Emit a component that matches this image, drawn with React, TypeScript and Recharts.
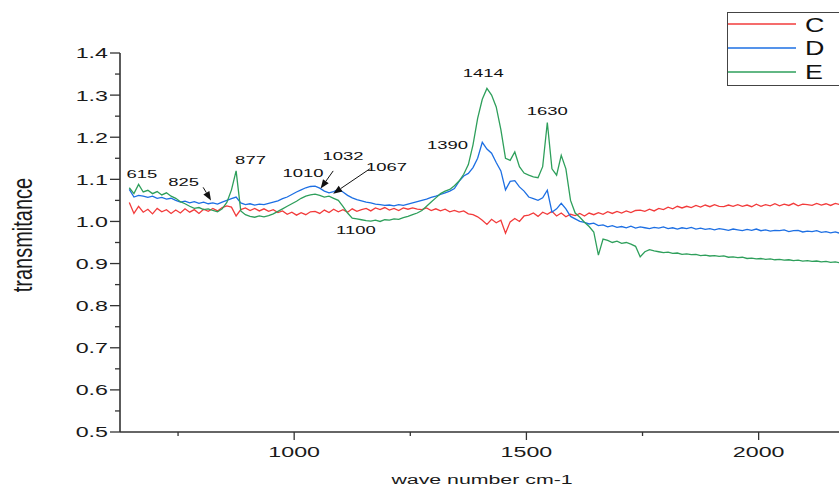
import React from "react";
import {
  Legend,
  Line,
  LineChart,
  ReferenceDot,
  ReferenceLine,
  XAxis,
  YAxis,
} from "recharts";

// wave numbers (cm-1) shared by the three spectra
const waveNumbers = [
  645, 655, 665, 675, 685, 695, 705, 715, 725, 735,
  745, 755, 765, 775, 785, 795, 805, 815, 825, 835,
  845, 855, 865, 875, 885, 895, 905, 915, 925, 935,
  945, 955, 965, 975, 985, 995, 1005, 1015, 1025, 1035,
  1045, 1055, 1065, 1075, 1085, 1095, 1105, 1115, 1125, 1135,
  1145, 1155, 1165, 1175, 1185, 1195, 1205, 1215, 1225, 1235,
  1245, 1255, 1265, 1275, 1285, 1295, 1305, 1315, 1325, 1335,
  1345, 1355, 1365, 1375, 1385, 1395, 1405, 1415, 1425, 1435,
  1445, 1455, 1465, 1475, 1485, 1495, 1505, 1515, 1525, 1535,
  1545, 1555, 1565, 1575, 1585, 1595, 1605, 1615, 1625, 1635,
  1645, 1655, 1665, 1675, 1685, 1695, 1705, 1715, 1725, 1735,
  1745, 1755, 1765, 1775, 1785, 1795, 1805, 1815, 1825, 1835,
  1845, 1855, 1865, 1875, 1885, 1895, 1905, 1915, 1925, 1935,
  1945, 1955, 1965, 1975, 1985, 1995, 2005, 2015, 2025, 2035,
  2045, 2055, 2065, 2075, 2085, 2095, 2105, 2115, 2125, 2135,
  2145, 2155, 2165, 2175,
];

const seriesC = [
  1.045, 1.019, 1.036, 1.022, 1.029, 1.018, 1.031, 1.023, 1.028, 1.019,
  1.027, 1.020, 1.030, 1.022, 1.028, 1.019, 1.029, 1.024, 1.031, 1.025,
  1.033, 1.037, 1.034, 1.013, 1.028, 1.032, 1.026, 1.031, 1.025, 1.030,
  1.024, 1.028, 1.021, 1.025, 1.017, 1.022, 1.015, 1.021, 1.016, 1.023,
  1.024, 1.019, 1.027, 1.021, 1.029, 1.023, 1.028, 1.022, 1.030, 1.024,
  1.028, 1.031, 1.025, 1.032, 1.028, 1.033, 1.027, 1.031, 1.026, 1.032,
  1.029, 1.032, 1.029, 1.028, 1.032, 1.026, 1.030, 1.025, 1.029, 1.023,
  1.026, 1.022, 1.025, 1.018, 1.016, 1.011, 1.003, 0.993, 1.005, 0.997,
  1.003, 0.972, 0.999, 1.007, 1.000, 1.013, 1.015, 1.020, 1.012, 1.022,
  1.017, 1.024, 1.013, 1.020, 1.011, 1.017, 1.014, 1.019, 1.013, 1.020,
  1.016, 1.021, 1.017, 1.023, 1.019, 1.024, 1.020, 1.025, 1.021, 1.026,
  1.027, 1.024, 1.029, 1.025, 1.031, 1.028, 1.034, 1.030, 1.036, 1.032,
  1.036, 1.033, 1.038, 1.034, 1.039, 1.035, 1.040, 1.036, 1.035, 1.039,
  1.036, 1.040, 1.036, 1.039, 1.035, 1.041, 1.036, 1.040, 1.037, 1.042,
  1.037, 1.041, 1.038, 1.043, 1.037, 1.041, 1.040, 1.038, 1.043, 1.039,
  1.042, 1.038, 1.043, 1.040,
];

const seriesD = [
  1.076, 1.058, 1.062, 1.060, 1.057, 1.060, 1.055, 1.057, 1.053, 1.055,
  1.050, 1.046, 1.048, 1.044, 1.047, 1.043, 1.046, 1.042, 1.044, 1.041,
  1.046, 1.050, 1.054, 1.058, 1.044, 1.040, 1.042, 1.039, 1.041, 1.040,
  1.043, 1.046, 1.049, 1.054, 1.058, 1.064, 1.070, 1.075, 1.080, 1.083,
  1.084, 1.079, 1.072, 1.068, 1.071, 1.076, 1.070, 1.062, 1.056, 1.052,
  1.049, 1.046, 1.044, 1.041, 1.040, 1.038, 1.039, 1.037, 1.040, 1.038,
  1.041, 1.044, 1.047, 1.050, 1.053, 1.057, 1.060, 1.064, 1.068, 1.072,
  1.078, 1.095, 1.108, 1.114, 1.128, 1.150, 1.188, 1.172, 1.162, 1.140,
  1.120, 1.075, 1.095, 1.097, 1.082, 1.072, 1.058, 1.054, 1.050, 1.056,
  1.074, 1.022, 1.030, 1.043, 1.030, 1.012, 1.006, 1.000, 0.998, 0.994,
  0.996, 0.990, 0.992, 0.987, 0.990, 0.986, 0.988, 0.985, 0.989, 0.984,
  0.987, 0.985, 0.983, 0.986, 0.984, 0.987, 0.983, 0.985, 0.982, 0.985,
  0.983, 0.986, 0.982, 0.984, 0.981, 0.983, 0.980, 0.983, 0.981, 0.979,
  0.982, 0.980, 0.978, 0.981, 0.979, 0.982, 0.978, 0.980, 0.977, 0.979,
  0.978, 0.980, 0.976, 0.978, 0.979, 0.975, 0.977, 0.976, 0.978, 0.974,
  0.976, 0.973, 0.975, 0.972,
];

const seriesE = [
  1.080, 1.066, 1.088, 1.070, 1.074, 1.066, 1.071, 1.063, 1.068, 1.060,
  1.055, 1.047, 1.042, 1.036, 1.031, 1.033, 1.028, 1.030, 1.026, 1.023,
  1.030, 1.045, 1.075, 1.120, 1.025, 1.016, 1.012, 1.010, 1.013, 1.011,
  1.014, 1.018, 1.024, 1.030, 1.036, 1.042, 1.048, 1.055, 1.060, 1.063,
  1.065, 1.062, 1.058, 1.060, 1.055, 1.050, 1.036, 1.020, 1.008, 1.006,
  1.004, 1.002, 1.001, 1.003, 1.000, 1.004, 1.003, 1.006, 1.005, 1.009,
  1.012, 1.016, 1.020, 1.026, 1.036, 1.046, 1.056, 1.066, 1.072, 1.076,
  1.085, 1.096, 1.112, 1.135, 1.182, 1.245, 1.290, 1.316, 1.300, 1.272,
  1.218, 1.150, 1.145, 1.165, 1.130, 1.115, 1.110, 1.106, 1.104, 1.130,
  1.235, 1.125, 1.110, 1.157, 1.125, 1.050, 1.020, 1.010, 0.998, 0.988,
  0.975, 0.920, 0.958, 0.955, 0.950, 0.953, 0.948, 0.950, 0.946, 0.941,
  0.916, 0.928, 0.933, 0.930, 0.928, 0.926, 0.927, 0.924, 0.925, 0.922,
  0.923, 0.921, 0.922, 0.919, 0.920, 0.918, 0.919, 0.917, 0.918, 0.915,
  0.916, 0.914, 0.915, 0.912, 0.913, 0.911, 0.912, 0.910, 0.911, 0.909,
  0.910, 0.908, 0.909, 0.907, 0.908, 0.906, 0.907, 0.905, 0.906, 0.904,
  0.905, 0.903, 0.904, 0.902,
];

const seriesNames = ["C", "D", "E"];
const seriesColors = ["#f23b3b", "#1d6fe3", "#2e9f5b"];

const xTicks = [750, 1000, 1250, 1500, 1750, 2000];
const yTicks = [
  0.5, 0.55, 0.6, 0.65, 0.7, 0.75, 0.8, 0.85, 0.9, 0.95, 1.0, 1.05, 1.1,
  1.15, 1.2, 1.25, 1.3, 1.35, 1.4,
];

// peak labels: text centre x and baseline y in data units
const peakLabels = [
  { text: "615", x: 672, y: 1.102 },
  { text: "825", x: 762, y: 1.084 },
  { text: "877", x: 906, y: 1.137 },
  { text: "1010", x: 1019, y: 1.105 },
  { text: "1032", x: 1105, y: 1.145 },
  { text: "1067", x: 1199, y: 1.12 },
  { text: "1100", x: 1133, y: 0.969 },
  { text: "1390", x: 1330, y: 1.171 },
  { text: "1414", x: 1407, y: 1.343 },
  { text: "1630", x: 1545, y: 1.252 },
];

const arrows = [
  { x1: 804, y1: 1.081, x2: 821, y2: 1.05 },
  { x1: 1084, y1: 1.12, x2: 1057, y2: 1.078 },
  { x1: 1163, y1: 1.125, x2: 1084, y2: 1.066 },
];

const data = waveNumbers.map((w, i) => ({
  w,
  C: seriesC[i],
  D: seriesD[i],
  E: seriesE[i],
}));

const FONT = "'Liberation Sans', Arial, sans-serif";
const AXIS = "#333";

function YTick({ x, y, payload }: any) {
  const v = payload.value;
  const major = Math.round(v * 100) % 10 === 0;
  return (
    <g>
      <line x1={x - (major ? 10 : 5)} x2={x} y1={y} y2={y} stroke={AXIS} strokeWidth={1.3} />
      {major && (
        <text
          transform={`translate(${x - 12},${y}) scale(1.55,1)`}
          textAnchor="end"
          dy="0.36em"
          fontSize={15}
          fontFamily={FONT}
          fill="#1a1a1a"
        >
          {v.toFixed(1)}
        </text>
      )}
    </g>
  );
}

function XTick({ x, y, payload }: any) {
  const v = payload.value;
  const major = v % 500 === 0;
  return (
    <g>
      <line x1={x} x2={x} y1={y} y2={y + (major ? 8 : 4)} stroke={AXIS} strokeWidth={1.3} />
      {major && (
        <text
          transform={`translate(${x},${y + 25}) scale(1.55,1)`}
          textAnchor="middle"
          fontSize={15}
          fontFamily={FONT}
          fill="#1a1a1a"
        >
          {v}
        </text>
      )}
    </g>
  );
}

function Arrow({ x1, y1, x2, y2 }: any) {
  const dx = x2 - x1;
  const dy = y2 - y1;
  const len = Math.sqrt(dx * dx + dy * dy) || 1;
  const ux = dx / len;
  const uy = dy / len;
  const bx = x2 - ux * 9;
  const by = y2 - uy * 9;
  const px = -uy * 3.5;
  const py = ux * 3.5;
  return (
    <g>
      <line x1={x1} y1={y1} x2={bx} y2={by} stroke="#111" strokeWidth={1} />
      <polygon
        points={`${x2},${y2} ${bx + px},${by + py} ${bx - px},${by - py}`}
        fill="#111"
      />
    </g>
  );
}

function LegendBox() {
  return (
    <svg width={112} height={74} style={{ display: "block" }}>
      <rect x={0.5} y={0.5} width={120} height={73} fill="#fff" stroke="#444" strokeWidth={1} />
      {seriesNames.map((n, i) => (
        <g key={n}>
          <line x1={1} x2={69} y1={12 + i * 24} y2={12 + i * 24} stroke={seriesColors[i]} strokeWidth={1.4} />
          <text
            transform={`translate(78,${19.5 + i * 23.6}) scale(1.28,1)`}
            fontSize={21}
            fontFamily={FONT}
            fill="#111"
          >
            {n}
          </text>
        </g>
      ))}
    </svg>
  );
}

export default function App() {
  return (
    <div style={{ position: "absolute", left: 0, top: 0, width: 839, height: 488, background: "#fff" }}>
      <LineChart
        width={839}
        height={488}
        data={data}
        margin={{ top: 53, right: 0, bottom: 0, left: 0 }}
      >
        <XAxis
          dataKey="w"
          type="number"
          domain={[625, 2173]}
          allowDataOverflow
          ticks={xTicks}
          interval={0}
          tickSize={0}
          tickMargin={0}
          tickLine={false}
          height={56}
          axisLine={{ stroke: AXIS, strokeWidth: 1.6 }}
          tick={<XTick />}
          label={{
            content: () => (
              <text
                transform="translate(482,484) scale(1.58,1)"
                textAnchor="middle"
                fontSize={13.5}
                fontFamily={FONT}
                fill="#1a1a1a"
              >
                wave number cm-1
              </text>
            ),
          }}
        />
        <YAxis
          type="number"
          domain={[0.5, 1.4]}
          ticks={yTicks}
          interval={0}
          tickSize={0}
          tickMargin={0}
          tickLine={false}
          width={120}
          axisLine={{ stroke: AXIS, strokeWidth: 1.6 }}
          tick={<YTick />}
          label={{
            content: () => (
              <text
                transform="translate(32,235) rotate(-90) scale(1,1.4)"
                textAnchor="middle"
                fontSize={20}
                fontFamily={FONT}
                fill="#1a1a1a"
              >
                transmitance
              </text>
            ),
          }}
        />
        <Legend
          layout="horizontal"
          verticalAlign="middle"
          align="center"
          wrapperStyle={{ left: 727, top: 12, width: 112, height: 74 }}
          content={() => <LegendBox />}
        />
        {seriesNames.map((n, i) => (
          <Line
            key={n}
            type="linear"
            dataKey={n}
            stroke={seriesColors[i]}
            strokeWidth={1.3}
            dot={false}
            isAnimationActive={false}
          />
        ))}
        {arrows.map((a, i) => (
          <ReferenceLine
            key={"a" + i}
            segment={[
              { x: a.x1, y: a.y1 },
              { x: a.x2, y: a.y2 },
            ]}
            ifOverflow="visible"
            shape={(p: any) => <Arrow x1={p.x1} y1={p.y1} x2={p.x2} y2={p.y2} />}
          />
        ))}
        {peakLabels.map((l) => (
          <ReferenceDot
            key={l.text}
            x={l.x}
            y={l.y}
            r={0}
            ifOverflow="visible"
            shape={(p: any) => (
              <text
                transform={`translate(${p.cx},${p.cy}) scale(1.68,1)`}
                textAnchor="middle"
                fontSize={11}
                fontFamily={FONT}
                fill="#111"
              >
                {l.text}
              </text>
            )}
          />
        ))}
      </LineChart>
    </div>
  );
}
